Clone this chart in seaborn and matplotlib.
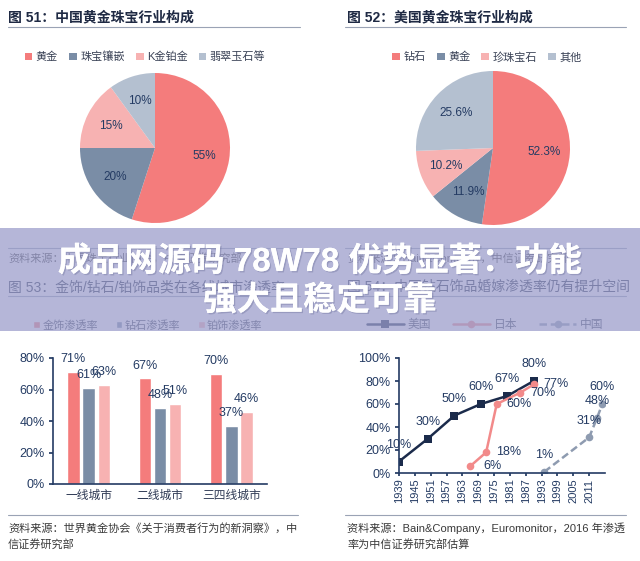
import numpy as np
import pandas as pd
import seaborn as sns
import matplotlib
matplotlib.use('Agg')
import matplotlib.pyplot as plt
import matplotlib.patheffects as pe
from matplotlib.patches import Rectangle
from matplotlib.lines import Line2D
from matplotlib.ticker import PercentFormatter

# 图51：中国黄金珠宝行业构成
cn_parts = ['黄金', '珠宝镶嵌', 'K金铂金', '翡翠玉石等']
cn_share = [55, 20, 15, 10]

# 图52：美国黄金珠宝行业构成
us_parts = ['钻石', '黄金', '珍珠宝石', '其他']
us_share = [52.3, 11.9, 10.2, 25.6]

# 图53：各线城市渗透率
cities = ['一线城市', '二线城市', '三四线城市']
bar_series = ['金饰渗透率', '钻石渗透率', '铂饰渗透率']
gold_rate = [71, 67, 70]
diamond_rate = [61, 48, 37]
platinum_rate = [63, 51, 46]

# 图54：钻石饰品婚嫁渗透率
countries = ['美国', '日本', '中国']
us_years = [1939, 1950, 1960, 1970, 1980, 1990]
us_rate = [10, 30, 50, 60, 67, 80]
jp_years = [1966, 1972, 1976, 1985, 1990]
jp_rate = [6, 18, 60, 70, 77]
cn_years = [1994, 2011, 2014, 2016]
cn_rate = [1, 31, 48, 60]
year_ticks = list(range(1939, 2012, 6))

W, H = 640, 561
navy = '#243B63'
title_col = '#1F2A44'
text_col = '#3A3A3A'
rule_col = '#9AA3B5'
pie_cols = ['#F47C7C', '#7A8DA6', '#F7B2B2', '#B4C0D0']


def box(l, t, r, b):
    return [l / W, 1 - b / H, (r - l) / W, (b - t) / H]


def fx(x):
    return x / W


def fy(y):
    return 1 - y / H


sns.set_theme(style='ticks')
plt.rcParams['font.family'] = ['Liberation Sans', 'Noto Sans CJK SC', 'DejaVu Sans']

fig = plt.figure(figsize=(W / 100, H / 100), dpi=100)
fig.patch.set_facecolor('white')


def rule(x0, x1, y):
    fig.add_artist(Line2D([fx(x0), fx(x1)], [fy(y), fy(y)], transform=fig.transFigure,
                          color=rule_col, lw=0.8, zorder=2))


# ---- headers, rules, sources
fig.text(fx(8), fy(17), '图 51：中国黄金珠宝行业构成', fontsize=10, weight='bold',
         color=title_col, va='center')
fig.text(fx(347), fy(17), '图 52：美国黄金珠宝行业构成', fontsize=10, weight='bold',
         color=title_col, va='center')
rule(8, 300, 27)
rule(345, 626, 27)

rule(8, 300, 248)
rule(345, 626, 248)
fig.text(fx(8), fy(258), '资料来源：中国珠宝行业协会，中信证券研究部', fontsize=8,
         color=text_col, va='center')
fig.text(fx(347), fy(258), '资料来源：Bain&Company，中信证券研究部', fontsize=8,
         color=text_col, va='center')
fig.text(fx(8), fy(287), '图 53：金饰/钻石/铂饰品类在各线城市渗透率', fontsize=10,
         color=title_col, va='center')
fig.text(fx(347), fy(287), '图 54：中国钻石饰品婚嫁渗透率仍有提升空间', fontsize=10,
         color=title_col, va='center')
rule(8, 300, 296)
rule(345, 626, 296)

rule(8, 298, 515)
rule(345, 626, 515)
fig.text(fx(8), fy(528), '资料来源：世界黄金协会《关于消费者行为的新洞察》，中',
         fontsize=8, color=text_col, va='center')
fig.text(fx(8), fy(544), '信证券研究部', fontsize=8, color=text_col, va='center')
fig.text(fx(347), fy(528), '资料来源：Bain&Company，Euromonitor，2016 年渗透',
         fontsize=8, color=text_col, va='center')
fig.text(fx(347), fy(544), '率为中信证券研究部估算', fontsize=8, color=text_col, va='center')

# ---- pies
for cx, cy, r, shares, parts, fmt, lx in [
        (155, 148, 75, cn_share, cn_parts, '%.0f%%', 145),
        (493, 148, 77, us_share, us_parts, '%.1f%%', 487)]:
    half = r * 1.1
    ax = fig.add_axes(box(cx - half, cy - half, cx + half, cy + half))
    wedges, _, _ = ax.pie(shares, colors=pie_cols, startangle=90, counterclock=False,
                          autopct=fmt, pctdistance=0.66,
                          textprops=dict(color=navy, fontsize=8.5),
                          wedgeprops=dict(linewidth=0))
    ax.set_xlim(-1.1, 1.1)
    ax.set_ylim(-1.1, 1.1)
    ax.set_aspect('equal')
    ax.legend(wedges, parts, loc='center', bbox_to_anchor=(fx(lx), fy(57)),
              bbox_transform=fig.transFigure, ncol=4, frameon=False,
              handlelength=0.7, handleheight=0.7, handletextpad=0.3,
              columnspacing=1.0, fontsize=8, labelcolor='#3A4256')

# ---- bar chart
bar_df = pd.DataFrame({
    'city': cities * 3,
    'series': np.repeat(bar_series, len(cities)),
    'value': gold_rate + diamond_rate + platinum_rate,
})
ax3 = fig.add_axes(box(53, 358, 267, 484))
sns.barplot(data=bar_df, x='city', y='value', hue='series', palette=pie_cols[:3],
            width=0.64, gap=0.18, saturation=1, errorbar=None, ax=ax3)
for cont in ax3.containers:
    ax3.bar_label(cont, fmt='%.0f%%', padding=5, fontsize=9, color=navy)
ax3.set_ylim(0, 80)
ax3.set_yticks([0, 20, 40, 60, 80])
ax3.yaxis.set_major_formatter(PercentFormatter(decimals=0))
ax3.set_xlabel('')
ax3.set_ylabel('')
for s in ['top', 'right']:
    ax3.spines[s].set_visible(False)
for s in ['left', 'bottom']:
    ax3.spines[s].set_color(navy)
    ax3.spines[s].set_linewidth(1.2)
ax3.tick_params(axis='y', length=3, color=navy, labelcolor=navy, labelsize=9, pad=3)
ax3.tick_params(axis='x', length=0, labelcolor='#2F3A55', labelsize=8.5, pad=4)
h, l = ax3.get_legend_handles_labels()
ax3.legend(h, l, loc='center', bbox_to_anchor=(fx(148), fy(325)),
           bbox_transform=fig.transFigure, ncol=3, frameon=False,
           handlelength=0.6, handleheight=0.6, handletextpad=0.2,
           columnspacing=1.6, fontsize=8, labelcolor='#3A4256')

# ---- line chart
line_df = pd.DataFrame({
    'country': ['美国'] * len(us_years) + ['日本'] * len(jp_years) + ['中国'] * len(cn_years),
    'year': us_years + jp_years + cn_years,
    'rate': us_rate + jp_rate + cn_rate,
})
line_cols = {'美国': '#1B2B4B', '日本': '#F28A8A', '中国': '#8E9BB0'}
ax4 = fig.add_axes(box(399, 358, 605, 473))
sns.lineplot(data=line_df, x='year', y='rate', hue='country', style='country',
             palette=line_cols, markers={'美国': 's', '日本': 'o', '中国': 'o'},
             dashes={'美国': '', '日本': '', '中国': (3, 1.5)},
             markersize=5.5, markeredgewidth=0, linewidth=1.8,
             estimator=None, ax=ax4)
offsets = {'美国': (0, 12), '日本': (16, 0), '中国': (0, 12)}
for _, row in line_df.iterrows():
    ax4.annotate(f"{row['rate']}%", (row['year'], row['rate']),
                 xytext=offsets[row['country']], textcoords='offset points',
                 ha='center', va='center', fontsize=9, color=navy)
ax4.set_xlim(1939, 2017)
ax4.set_ylim(0, 100)
ax4.set_xticks(year_ticks)
ax4.set_xticklabels([str(y) for y in year_ticks], rotation=90)
ax4.set_yticks(range(0, 101, 20))
ax4.yaxis.set_major_formatter(PercentFormatter(decimals=0))
ax4.set_xlabel('')
ax4.set_ylabel('')
for s in ['top', 'right']:
    ax4.spines[s].set_visible(False)
for s in ['left', 'bottom']:
    ax4.spines[s].set_color(navy)
    ax4.spines[s].set_linewidth(1.2)
ax4.tick_params(axis='y', length=3, color=navy, labelcolor=navy, labelsize=9, pad=3)
ax4.tick_params(axis='x', length=2, color=navy, labelcolor=navy, labelsize=8, pad=2)
h, l = ax4.get_legend_handles_labels()
keep = [(hh, ll) for hh, ll in zip(h, l) if ll in countries]
ax4.legend([k[0] for k in keep], [k[1] for k in keep], loc='center',
           bbox_to_anchor=(fx(485), fy(325)), bbox_transform=fig.transFigure,
           ncol=3, frameon=False, handlelength=3.2, handletextpad=0.3,
           columnspacing=1.8, fontsize=8.5, labelcolor='#3A4256')

# ---- overlay banner
fig.add_artist(Rectangle((0, fy(331)), 1, (331 - 228) / H, transform=fig.transFigure,
                         facecolor=(0.61, 0.62, 0.80), edgecolor='none', alpha=0.75,
                         zorder=5))
shadow = [pe.withSimplePatchShadow(offset=(1, -1), shadow_rgbFace='#7D80A8', alpha=0.5),
          pe.Normal()]
fig.text(0.5, fy(262), '成品网源码 78W78 优势显著：功能', ha='center', va='center',
         fontsize=24, weight='bold', color='white', zorder=6, path_effects=shadow)
fig.text(0.5, fy(301), '强大且稳定可靠', ha='center', va='center',
         fontsize=24, weight='bold', color='white', zorder=6, path_effects=shadow)

fig.savefig('out.png', dpi=100)
